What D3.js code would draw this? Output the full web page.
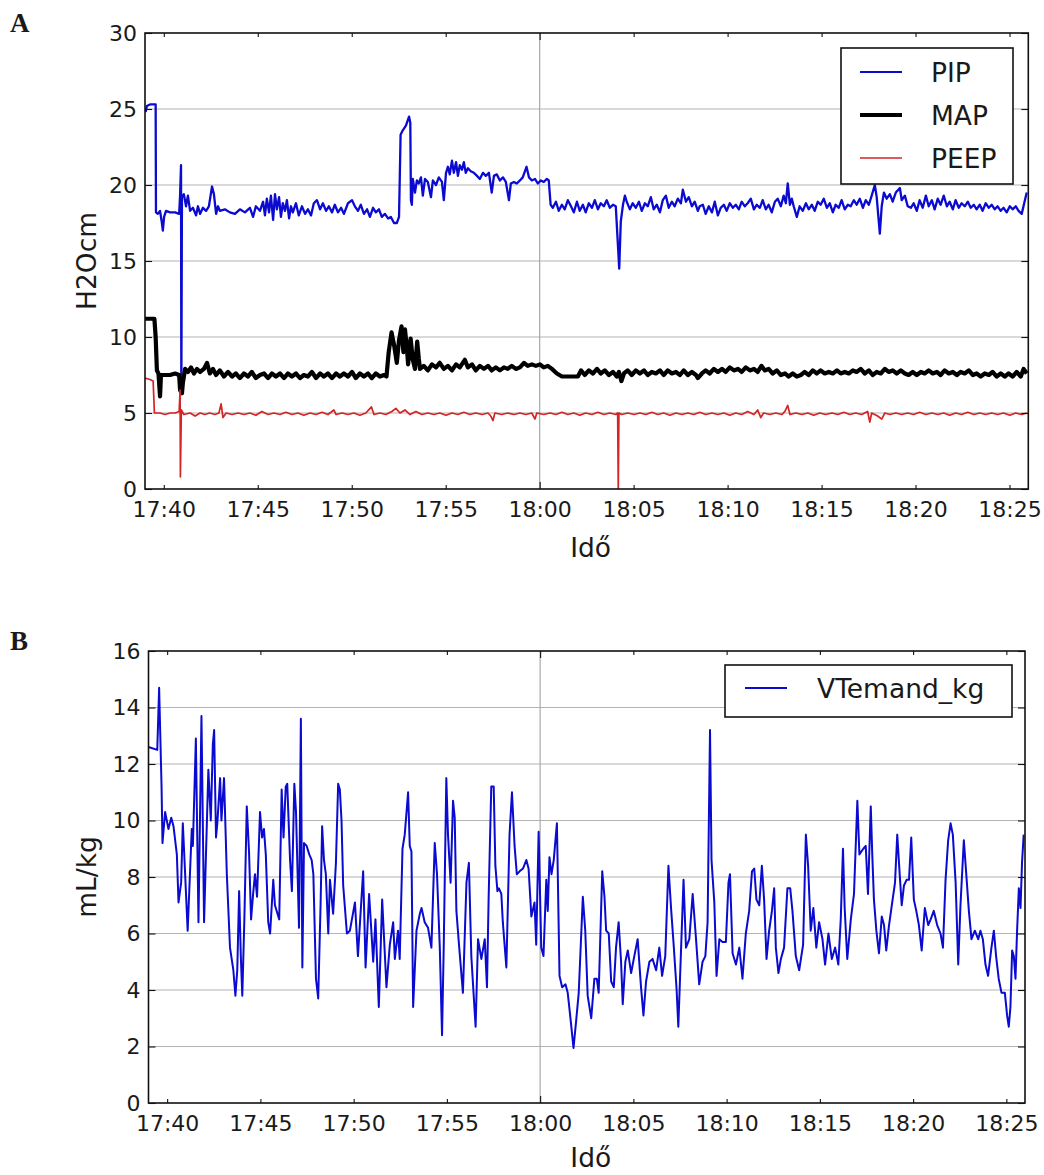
<!DOCTYPE html>
<html>
<head>
<meta charset="utf-8">
<script src="https://cdn.jsdelivr.net/npm/d3@7"></script>
<style>
  body { margin: 0; background: #fff; }
  text { font-family: "DejaVu Sans", sans-serif; fill: #1a1a1a; }
</style>
</head>
<body>
<svg id="chart" width="1044" height="1175"></svg>
<script>
// ---- data ----
// panel A: [seconds after 17:39:00, H2Ocm]
const pipData = [[2,24.8],[6,25.2],[16,25.3],[34,25.3],[35,18.2],[41,18.1],[48,18.3],[54,17.5],[57,17.0],[61,17.9],[67,18.3],[80,18.2],[96,18.2],[109,18.1],[112,19.3],[115,21.3],[116,6.4],[118,19.2],[124,19.4],[131,18.6],[137,19.3],[144,18.3],[153,18.5],[163,18.0],[169,18.6],[176,18.1],[185,18.5],[195,18.3],[204,18.6],[214,19.9],[220,19.4],[227,18.1],[233,18.6],[239,18.3],[255,18.4],[271,18.2],[287,18.1],[303,18.4],[319,18.2],[335,18.5],[345,17.9],[354,18.6],[367,18.3],[377,18.9],[383,18.0],[389,19.1],[396,18.2],[402,19.3],[409,17.7],[415,19.4],[421,18.4],[428,19.2],[434,17.9],[440,18.8],[447,18.3],[453,19.0],[460,17.8],[466,18.6],[472,18.2],[482,18.8],[491,18.0],[501,18.6],[511,18.1],[520,18.4],[530,18.0],[539,18.8],[549,19.0],[559,18.4],[568,18.8],[578,18.3],[587,18.6],[597,18.2],[606,18.7],[616,18.2],[626,18.5],[635,18.1],[648,18.8],[661,19.0],[670,18.6],[680,18.3],[689,18.7],[699,18.1],[709,18.4],[718,17.9],[728,18.5],[737,18.2],[747,18.4],[756,17.9],[766,18.1],[776,17.8],[785,17.9],[795,17.5],[804,17.5],[811,17.9],[816,23.3],[823,23.6],[833,23.9],[843,24.5],[847,24.1],[849,19.0],[852,18.7],[855,20.4],[862,19.5],[868,20.3],[874,20.1],[881,20.5],[887,19.3],[894,20.4],[903,20.2],[913,19.2],[919,20.3],[929,20.0],[938,20.5],[948,20.2],[954,19.0],[961,20.8],[967,21.2],[973,20.7],[980,21.6],[986,20.8],[993,21.5],[999,20.6],[1005,21.3],[1012,21.0],[1018,21.5],[1024,20.8],[1031,21.1],[1040,20.9],[1050,20.8],[1060,20.6],[1069,20.4],[1079,20.8],[1088,20.6],[1098,20.8],[1107,19.5],[1114,20.6],[1123,20.7],[1133,20.3],[1143,20.5],[1152,20.2],[1162,19.0],[1168,20.1],[1178,20.2],[1187,20.1],[1197,20.3],[1206,20.5],[1218,21.2],[1226,20.5],[1235,20.3],[1245,20.4],[1254,20.1],[1264,20.3],[1273,20.2],[1283,20.4],[1289,20.3],[1295,18.7],[1302,18.5],[1312,18.9],[1321,18.3],[1331,18.7],[1340,18.4],[1350,19.0],[1360,18.6],[1369,18.2],[1379,18.9],[1388,18.3],[1398,18.7],[1407,18.2],[1417,18.8],[1427,18.5],[1436,19.0],[1446,18.4],[1455,18.8],[1465,18.6],[1474,19.0],[1484,18.5],[1494,18.7],[1503,18.6],[1514,14.5],[1519,17.6],[1526,18.7],[1532,19.3],[1538,18.9],[1548,18.4],[1557,18.8],[1567,18.5],[1577,18.9],[1586,18.3],[1596,18.8],[1605,18.6],[1615,19.2],[1624,18.4],[1634,18.7],[1644,18.2],[1653,19.0],[1663,19.3],[1672,18.5],[1682,18.9],[1691,18.6],[1701,19.1],[1711,18.8],[1717,19.7],[1727,18.9],[1736,19.2],[1746,18.6],[1755,18.9],[1765,18.3],[1771,18.6],[1781,18.7],[1790,18.1],[1800,18.6],[1810,18.2],[1819,18.9],[1829,18.0],[1838,18.5],[1848,18.7],[1857,18.3],[1867,18.8],[1877,18.5],[1886,18.7],[1896,18.4],[1905,18.9],[1915,18.6],[1924,18.8],[1934,19.1],[1944,18.4],[1953,18.7],[1963,18.5],[1972,19.0],[1982,18.4],[1991,18.7],[2001,18.2],[2011,18.9],[2020,19.1],[2030,18.6],[2039,19.3],[2046,18.8],[2052,20.1],[2059,18.7],[2065,19.1],[2071,18.6],[2081,17.9],[2090,18.6],[2100,18.3],[2110,18.8],[2119,18.4],[2129,18.7],[2138,18.3],[2148,18.9],[2157,18.7],[2167,19.1],[2177,18.5],[2186,18.8],[2196,18.2],[2205,18.7],[2215,18.5],[2224,19.0],[2234,18.4],[2244,18.7],[2253,18.6],[2263,19.0],[2272,18.7],[2282,19.1],[2292,18.5],[2301,19.0],[2311,18.7],[2320,19.3],[2330,20.0],[2336,19.2],[2346,16.8],[2352,18.6],[2359,19.5],[2368,19.1],[2378,19.4],[2387,18.9],[2397,19.5],[2410,19.8],[2416,19.0],[2426,19.3],[2435,18.6],[2445,18.5],[2454,18.8],[2464,18.3],[2473,19.0],[2483,18.5],[2493,19.3],[2502,18.6],[2512,19.0],[2521,18.4],[2531,19.1],[2540,18.7],[2550,19.3],[2560,18.6],[2569,18.9],[2579,18.4],[2588,19.0],[2598,18.5],[2607,18.8],[2617,18.6],[2627,18.9],[2636,18.5],[2646,18.7],[2655,18.4],[2665,18.7],[2674,18.3],[2684,18.8],[2694,18.5],[2703,18.7],[2713,18.4],[2722,18.6],[2732,18.3],[2741,18.5],[2751,18.2],[2761,18.6],[2770,18.4],[2780,18.6],[2789,18.3],[2799,18.1],[2808,18.9],[2815,19.5]];

const mapData = [[0,11.2],[30,11.2],[34,10.0],[38,7.8],[43,7.6],[48,6.1],[51,7.5],[64,7.5],[80,7.5],[96,7.6],[109,7.5],[112,6.5],[118,6.3],[121,7.0],[128,7.9],[137,7.7],[147,8.0],[156,7.6],[166,7.9],[176,7.7],[188,7.9],[198,8.3],[207,7.6],[217,7.9],[227,7.5],[239,7.8],[252,7.4],[265,7.7],[278,7.4],[290,7.6],[303,7.3],[316,7.6],[329,7.4],[341,7.7],[354,7.3],[367,7.5],[380,7.6],[393,7.3],[405,7.6],[418,7.4],[431,7.6],[444,7.3],[456,7.6],[469,7.4],[482,7.6],[495,7.3],[507,7.5],[520,7.4],[533,7.7],[546,7.3],[559,7.6],[571,7.4],[584,7.6],[597,7.3],[610,7.6],[622,7.4],[635,7.6],[648,7.4],[661,7.7],[673,7.3],[686,7.6],[699,7.4],[712,7.6],[724,7.3],[737,7.6],[750,7.4],[763,7.5],[771,7.4],[778,9.0],[787,10.3],[795,9.5],[804,8.3],[811,9.8],[819,10.7],[825,9.0],[830,10.5],[836,9.3],[840,8.2],[848,9.9],[855,8.5],[862,7.9],[869,9.7],[874,8.6],[878,7.9],[890,8.1],[903,7.8],[916,8.2],[929,8.0],[941,8.3],[954,7.9],[967,8.1],[980,7.8],[993,8.2],[1005,8.0],[1021,8.5],[1031,8.0],[1044,8.2],[1056,7.8],[1069,8.1],[1082,7.9],[1095,8.1],[1107,7.8],[1120,8.0],[1133,7.8],[1146,8.0],[1158,7.9],[1171,8.1],[1184,7.9],[1197,8.0],[1210,8.3],[1222,8.1],[1235,8.2],[1248,8.1],[1261,8.2],[1273,8.0],[1286,8.1],[1299,7.9],[1315,7.6],[1331,7.4],[1356,7.4],[1382,7.4],[1392,7.8],[1404,7.5],[1417,7.8],[1430,7.6],[1443,7.9],[1455,7.6],[1468,7.8],[1481,7.5],[1494,7.7],[1506,7.4],[1513,7.7],[1521,7.1],[1529,7.6],[1541,7.8],[1554,7.5],[1567,7.8],[1580,7.6],[1593,7.8],[1605,7.5],[1618,7.7],[1631,7.6],[1644,7.8],[1656,7.5],[1669,7.8],[1682,7.6],[1695,7.7],[1708,7.5],[1720,7.8],[1733,7.5],[1746,7.7],[1759,7.5],[1765,7.3],[1778,7.6],[1790,7.8],[1803,7.6],[1816,7.9],[1829,7.7],[1842,7.9],[1854,7.7],[1867,8.0],[1880,7.8],[1893,7.9],[1905,7.7],[1918,8.0],[1931,7.8],[1944,7.9],[1956,7.7],[1968,8.1],[1979,7.8],[1991,7.9],[2004,7.6],[2017,7.8],[2030,7.5],[2043,7.6],[2055,7.4],[2068,7.6],[2081,7.4],[2094,7.5],[2106,7.7],[2119,7.5],[2132,7.8],[2145,7.6],[2157,7.8],[2170,7.6],[2183,7.7],[2196,7.6],[2209,7.8],[2221,7.6],[2234,7.7],[2247,7.6],[2260,7.8],[2272,7.7],[2285,7.9],[2298,7.6],[2311,7.8],[2323,7.5],[2336,7.7],[2349,7.6],[2362,7.9],[2374,7.7],[2387,7.8],[2400,7.6],[2413,7.8],[2426,7.6],[2438,7.5],[2451,7.7],[2464,7.5],[2477,7.7],[2489,7.6],[2502,7.8],[2515,7.6],[2528,7.7],[2540,7.5],[2553,7.8],[2566,7.6],[2579,7.7],[2592,7.5],[2604,7.7],[2617,7.6],[2630,7.8],[2643,7.5],[2655,7.6],[2668,7.4],[2681,7.6],[2694,7.5],[2706,7.7],[2719,7.4],[2732,7.6],[2745,7.4],[2757,7.6],[2770,7.4],[2783,7.7],[2796,7.4],[2805,7.9],[2815,7.6]];

const peepData = [[0,7.3],[16,7.2],[26,7.1],[30,5.0],[48,5.0],[64,4.9],[80,5.0],[96,5.0],[109,5.1],[112,6.5],[113,0.8],[116,5.2],[124,4.9],[144,5.0],[160,4.8],[176,5.0],[191,4.9],[207,5.0],[223,4.9],[236,5.0],[243,5.6],[249,4.7],[259,5.0],[278,4.9],[297,5.0],[316,4.9],[335,5.0],[354,4.85],[373,5.1],[393,4.9],[412,5.0],[431,4.9],[450,5.05],[469,4.9],[488,5.0],[507,4.85],[527,5.0],[546,4.9],[565,5.05],[584,4.9],[603,5.2],[610,4.9],[629,5.0],[648,4.9],[667,5.0],[686,4.85],[705,5.0],[723,5.4],[731,4.9],[750,5.0],[769,4.9],[788,5.1],[801,5.3],[814,5.0],[830,5.2],[846,4.9],[865,5.1],[884,4.9],[903,5.0],[922,4.9],[941,5.0],[961,4.85],[980,5.0],[999,4.9],[1018,5.05],[1037,4.9],[1056,5.0],[1076,4.9],[1095,5.0],[1104,4.8],[1111,4.5],[1117,5.0],[1139,4.9],[1158,5.0],[1178,4.9],[1197,5.0],[1216,4.9],[1235,5.0],[1245,4.6],[1251,5.0],[1273,4.9],[1293,5.0],[1312,4.9],[1331,5.05],[1350,4.9],[1369,5.0],[1388,4.85],[1407,5.0],[1427,4.9],[1446,5.05],[1465,4.9],[1484,5.0],[1503,4.9],[1509,5.0],[1511,0.0],[1513,5.0],[1522,4.9],[1541,5.0],[1561,4.9],[1580,5.0],[1599,4.9],[1618,5.05],[1637,4.9],[1656,5.0],[1676,4.85],[1695,5.0],[1714,4.9],[1733,5.0],[1752,4.9],[1771,5.05],[1790,4.9],[1810,5.0],[1829,4.9],[1848,5.0],[1867,4.85],[1886,5.0],[1905,4.9],[1924,5.1],[1944,4.9],[1956,5.2],[1966,4.7],[1975,5.0],[1995,4.9],[2014,5.0],[2033,4.9],[2043,5.1],[2052,5.5],[2059,4.9],[2078,5.0],[2097,4.9],[2116,5.0],[2135,4.85],[2154,5.0],[2173,4.9],[2193,5.0],[2212,4.9],[2231,5.05],[2250,4.9],[2269,5.0],[2288,4.9],[2307,5.1],[2314,4.4],[2320,5.0],[2339,4.8],[2352,4.6],[2362,5.0],[2378,4.9],[2397,5.0],[2416,4.9],[2435,5.0],[2454,4.9],[2473,5.05],[2493,4.9],[2512,5.0],[2531,4.9],[2550,5.0],[2569,4.85],[2588,5.0],[2607,4.9],[2627,5.05],[2646,4.9],[2665,5.0],[2684,4.9],[2703,5.0],[2722,4.9],[2741,5.0],[2761,4.85],[2780,5.0],[2799,4.9],[2815,5.0]];

// panel B: [minutes after 17:00, mL/kg]
const vtData = [[39.00,12.6],[39.47,12.5],[39.57,14.7],[39.70,11.2],[39.75,9.2],[39.89,10.3],[40.07,9.7],[40.22,10.1],[40.34,9.8],[40.52,8.8],[40.61,7.1],[40.75,7.8],[40.84,9.9],[40.91,8.9],[41.10,6.1],[41.32,9.7],[41.38,9.1],[41.54,12.9],[41.68,6.4],[41.84,13.7],[41.98,6.4],[42.21,11.8],[42.34,10.0],[42.45,12.7],[42.52,13.2],[42.62,9.4],[42.69,9.9],[42.84,11.5],[42.91,10.0],[43.05,11.5],[43.20,8.1],[43.37,5.5],[43.55,4.7],[43.66,3.8],[43.76,4.7],[43.86,7.5],[43.95,5.2],[44.03,3.8],[44.14,6.5],[44.27,10.5],[44.39,8.9],[44.50,6.5],[44.61,7.4],[44.71,8.1],[44.82,7.3],[44.98,10.3],[45.09,9.4],[45.19,9.7],[45.29,8.8],[45.42,6.4],[45.52,6.0],[45.69,7.9],[45.78,7.0],[46.01,6.5],[46.14,11.1],[46.24,9.4],[46.36,11.2],[46.44,11.3],[46.59,8.6],[46.69,7.5],[46.82,11.3],[46.91,10.3],[47.07,6.2],[47.17,13.6],[47.25,4.8],[47.34,9.2],[47.48,9.1],[47.62,8.8],[47.75,8.6],[47.84,8.1],[47.98,4.4],[48.10,3.7],[48.23,7.1],[48.31,9.8],[48.41,8.6],[48.51,8.1],[48.64,6.0],[48.73,7.9],[48.90,6.7],[49.05,8.5],[49.17,11.3],[49.26,11.1],[49.35,10.0],[49.44,7.7],[49.64,6.0],[49.80,6.1],[50.07,7.1],[50.23,5.2],[50.51,8.2],[50.64,4.8],[50.83,7.4],[51.05,5.0],[51.17,6.5],[51.35,3.4],[51.53,7.2],[51.76,4.1],[51.94,5.6],[52.12,6.4],[52.21,5.1],[52.38,6.1],[52.47,5.1],[52.62,9.0],[52.74,9.5],[52.92,11.0],[53.01,9.1],[53.10,8.9],[53.19,3.4],[53.37,6.1],[53.55,6.7],[53.64,6.9],[53.81,6.4],[53.99,6.2],[54.17,5.5],[54.35,9.2],[54.47,8.1],[54.62,5.5],[54.74,2.4],[54.83,5.5],[54.97,11.5],[55.06,9.5],[55.20,7.8],[55.33,10.7],[55.42,10.1],[55.51,6.8],[55.65,5.6],[55.86,3.9],[56.05,7.8],[56.18,8.5],[56.31,5.2],[56.54,2.7],[56.67,5.8],[56.85,5.1],[57.03,5.8],[57.15,4.1],[57.24,7.3],[57.38,11.2],[57.51,11.2],[57.60,8.4],[57.71,7.5],[57.79,7.6],[57.92,7.4],[58.00,6.4],[58.19,4.8],[58.36,9.5],[58.49,11.0],[58.63,9.1],[58.75,8.1],[58.90,8.2],[59.08,8.3],[59.26,8.6],[59.38,8.3],[59.53,6.6],[59.70,7.1],[59.79,5.6],[59.92,9.6],[60.06,5.5],[60.18,5.2],[60.33,7.9],[60.41,6.8],[60.50,8.7],[60.61,8.1],[60.73,8.6],[60.90,9.9],[61.04,4.5],[61.18,4.1],[61.36,4.2],[61.48,3.9],[61.61,3.1],[61.79,1.95],[61.93,2.9],[62.07,3.9],[62.29,7.3],[62.42,6.1],[62.55,3.8],[62.74,3.0],[62.91,4.4],[63.04,4.4],[63.14,3.9],[63.33,8.2],[63.45,7.3],[63.54,6.1],[63.68,6.0],[63.81,4.3],[63.95,4.1],[64.07,5.5],[64.21,6.4],[64.34,5.0],[64.43,3.5],[64.57,5.0],[64.70,5.4],[64.88,4.6],[65.05,5.2],[65.23,5.8],[65.41,4.1],[65.54,3.1],[65.68,4.3],[65.86,5.0],[66.03,5.1],[66.22,4.7],[66.39,5.5],[66.54,4.5],[66.71,5.2],[66.88,8.4],[67.02,6.9],[67.16,5.6],[67.32,4.0],[67.41,2.7],[67.56,5.5],[67.69,7.9],[67.82,5.5],[68.00,5.8],[68.18,7.4],[68.36,5.8],[68.53,4.2],[68.71,5.0],[68.86,5.2],[68.98,6.4],[69.11,13.2],[69.19,8.6],[69.34,7.1],[69.46,4.5],[69.61,5.8],[69.78,5.7],[69.96,5.7],[70.10,7.8],[70.18,8.1],[70.32,5.3],[70.50,4.9],[70.68,5.5],[70.85,4.4],[71.03,6.0],[71.21,6.8],[71.36,8.2],[71.48,8.3],[71.60,7.2],[71.75,7.0],[71.89,8.4],[72.01,7.2],[72.14,5.1],[72.28,6.1],[72.43,6.8],[72.55,7.6],[72.64,5.5],[72.78,4.6],[72.91,5.1],[73.08,5.5],[73.26,7.6],[73.41,7.6],[73.53,6.8],[73.71,5.2],[73.89,4.7],[74.10,5.6],[74.25,9.5],[74.37,8.4],[74.51,6.1],[74.65,6.9],[74.81,5.5],[74.96,6.4],[75.14,5.8],[75.28,4.9],[75.46,6.0],[75.64,5.1],[75.82,5.5],[75.99,4.9],[76.12,6.5],[76.24,9.0],[76.33,6.9],[76.47,5.1],[76.66,6.5],[76.83,7.4],[77.01,10.7],[77.12,8.8],[77.22,8.9],[77.33,9.0],[77.46,9.1],[77.58,7.4],[77.73,10.5],[77.81,8.8],[77.90,7.2],[78.03,6.1],[78.17,5.3],[78.32,6.6],[78.44,6.3],[78.56,5.4],[78.71,6.3],[78.88,7.1],[79.03,7.8],[79.15,9.5],[79.28,8.1],[79.39,7.0],[79.51,7.7],[79.65,7.9],[79.78,7.9],[79.90,9.4],[80.04,7.2],[80.17,6.8],[80.31,6.3],[80.46,5.4],[80.63,6.9],[80.81,6.3],[80.94,6.5],[81.11,6.8],[81.29,6.3],[81.47,6.0],[81.60,5.5],[81.74,7.9],[81.88,9.3],[82.01,9.9],[82.13,9.5],[82.28,7.8],[82.42,4.9],[82.54,7.0],[82.72,9.3],[82.84,8.2],[82.99,6.8],[83.13,5.8],[83.31,6.1],[83.49,5.8],[83.61,6.1],[83.74,5.8],[83.88,4.9],[84.02,4.5],[84.20,5.5],[84.33,6.1],[84.45,5.2],[84.59,4.4],[84.74,3.9],[84.92,3.9],[85.04,3.1],[85.13,2.7],[85.22,3.4],[85.31,5.4],[85.40,5.2],[85.49,4.4],[85.57,6.0],[85.67,7.6],[85.76,6.9],[85.84,8.5],[85.93,9.5]];

const xTickLabels = ["17:40","17:45","17:50","17:55","18:00","18:05","18:10","18:15","18:20","18:25"];
const xGridLabels = ["18:00"];
const yTicksA = [0, 5, 10, 15, 20, 25, 30];
const yTicksB = [0, 2, 4, 6, 8, 10, 12, 14, 16];

// ---- setup ----
const svg = d3.select("#chart");
const parseHM = d3.timeParse("%H:%M");
const tStart = parseHM("17:39"), tEnd = parseHM("18:26");
const fromSec = s => new Date(+tStart + s * 1000);
const fromMin = m => new Date(+parseHM("17:00") + m * 60000);
const xTicks = xTickLabels.map(parseHM);
const xGrid = xGridLabels.map(parseHM);

const BLUE = "#0a0ad0", RED = "#d42424";

const drawPanel = p => {
	const x = d3.scaleTime().domain([tStart, tEnd]).range([p.left, p.right]);
	const y = d3.scaleLinear().domain(d3.extent(p.yTicks)).range([p.bottom, p.top]);

	svg.append("clipPath").attr("id", "clip" + p.id)
		.append("rect").attr("x", p.left).attr("y", p.top)
		.attr("width", p.right - p.left).attr("height", p.bottom - p.top);

	// grid: horizontal on every y tick, vertical only on the hour
	svg.append("g").selectAll("line")
		.data(p.yTicks.slice(1, -1)).join("line")
		.attr("x1", p.left).attr("x2", p.right)
		.attr("y1", d => y(d)).attr("y2", d => y(d))
		.attr("stroke", "#b4b4b4").attr("stroke-width", 1.2);
	svg.append("g").selectAll("line")
		.data(xGrid).join("line")
		.attr("x1", d => x(d)).attr("x2", d => x(d))
		.attr("y1", p.top).attr("y2", p.bottom)
		.attr("stroke", "#a8a8a8").attr("stroke-width", 1.2);

	p.series.forEach(s => {
		svg.append("path")
			.datum(s.data)
			.attr("clip-path", `url(#clip${p.id})`)
			.attr("fill", "none")
			.attr("stroke", s.color)
			.attr("stroke-width", s.width)
			.attr("stroke-linejoin", "round")
			.attr("d", d3.line().x(d => x(p.time(d[0]))).y(d => y(d[1])));
	});

	svg.append("rect")
		.attr("x", p.left).attr("y", p.top)
		.attr("width", p.right - p.left).attr("height", p.bottom - p.top)
		.attr("fill", "none").attr("stroke", "#111").attr("stroke-width", 1.6);

	// axes (ticks point inward)
	const styleAxis = g => {
		g.select(".domain").remove();
		g.attr("font-family", "DejaVu Sans").attr("font-size", 22);
		g.selectAll(".tick line").attr("stroke", "#111").attr("stroke-width", 1.1);
		g.selectAll(".tick text").attr("fill", "#1a1a1a");
		g.selectAll(".tick").filter(d => xGrid.some(h => +h === +d)).select("line")
			.attr("y2", function () { return +d3.select(this).attr("y2") < 0 ? -7 : 7; });
	};
	svg.append("g").attr("transform", `translate(0,${p.bottom})`)
		.call(d3.axisBottom(x).tickValues(xTicks).tickFormat(d3.timeFormat("%H:%M"))
			.tickSizeInner(-4).tickSizeOuter(0).tickPadding(12))
		.call(styleAxis);
	svg.append("g").attr("transform", `translate(0,${p.top})`)
		.call(d3.axisTop(x).tickValues(xTicks).tickFormat("").tickSizeInner(-4).tickSizeOuter(0))
		.call(styleAxis);
	svg.append("g").attr("transform", `translate(${p.left},0)`)
		.call(d3.axisLeft(y).tickValues(p.yTicks).tickSizeInner(-7).tickSizeOuter(0).tickPadding(8))
		.call(styleAxis);
	svg.append("g").attr("transform", `translate(${p.right},0)`)
		.call(d3.axisRight(y).tickValues(p.yTicks).tickFormat("").tickSizeInner(-7).tickSizeOuter(0))
		.call(styleAxis);

	svg.append("text")
		.attr("x", (p.left + p.right) / 2 + 4).attr("y", p.bottom + p.xLabelGap)
		.attr("text-anchor", "middle").attr("font-size", 26.5)
		.text("Idő");
	svg.append("text")
		.attr("transform", `translate(96,${(p.top + p.bottom) / 2}) rotate(-90)`)
		.attr("text-anchor", "middle").attr("font-size", 26.5)
		.text(p.yLabel);

	svg.append("text")
		.attr("x", 10).attr("y", p.top - 1)
		.style("font-family", "'Liberation Serif', 'Times New Roman', serif")
		.attr("font-weight", "bold").attr("font-size", 27)
		.text(p.id);

	// legend
	const lg = p.legend;
	svg.append("rect")
		.attr("x", lg.x).attr("y", lg.y).attr("width", lg.w).attr("height", lg.h)
		.attr("fill", "#fff").attr("stroke", "#111").attr("stroke-width", 1.6);
	p.series.forEach((s, i) => {
		const cy = lg.y + lg.first + i * lg.step;
		svg.append("line")
			.attr("x1", lg.x + lg.lineX).attr("x2", lg.x + lg.lineX + 42)
			.attr("y1", cy).attr("y2", cy)
			.attr("stroke", s.color).attr("stroke-width", s.legendWidth || s.width);
		svg.append("text")
			.attr("x", lg.x + lg.textX).attr("y", cy + 9.5)
			.attr("font-size", 26.5)
			.text(s.name);
	});
};

drawPanel({
	id: "A", left: 145, right: 1028.3, top: 33, bottom: 489, xLabelGap: 68,
	yTicks: yTicksA, yLabel: "H2Ocm", time: fromSec,
	series: [
		{ name: "PIP", data: pipData, color: BLUE, width: 2.3, legendWidth: 1.8 },
		{ name: "MAP", data: mapData, color: "#000", width: 4.2, legendWidth: 3.8 },
		{ name: "PEEP", data: peepData, color: RED, width: 1.7 }
	],
	legend: { x: 841, y: 48, w: 172, h: 136, first: 24, step: 43, lineX: 19, textX: 90 }
});

drawPanel({
	id: "B", left: 148.5, right: 1025, top: 651, bottom: 1103, xLabelGap: 64,
	yTicks: yTicksB, yLabel: "mL/kg", time: fromMin,
	series: [
		{ name: "VTemand_kg", data: vtData, color: BLUE, width: 2.0, legendWidth: 1.8 }
	],
	legend: { x: 725, y: 665, w: 287, h: 52, first: 23, step: 0, lineX: 20, textX: 92 }
});
</script>
</body>
</html>
